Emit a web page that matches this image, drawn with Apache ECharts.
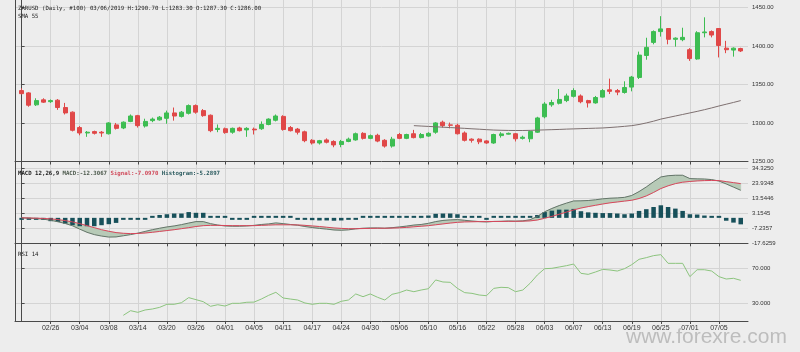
<!DOCTYPE html>
<html>
<head>
<meta charset="utf-8">
<title>ZARUSD Daily</title>
<script src="https://cdn.jsdelivr.net/npm/echarts@6/dist/echarts.min.js"></script>
<style>
  html, body { margin: 0; padding: 0; background: #ededed; }
  #chart { width: 800px; height: 352px; }
</style>
</head>
<body>
<div id="chart"></div>
<script>
// date labels on the bottom axis, one every 4 bars
const tickIndex = [4, 8, 12, 16, 20, 24, 28, 32, 36, 40, 44, 48, 52, 56, 60, 64, 68, 72, 76, 80, 84, 88, 92, 96];
const tickLabels = ['02/26', '03/04', '03/08', '03/14', '03/20', '03/26', '04/01', '04/05', '04/11', '04/17', '04/24', '04/30',
  '05/06', '05/10', '05/16', '05/22', '05/28', '06/03', '06/07', '06/13', '06/19', '06/25', '07/01', '07/05'];

const priceTicks = [1250, 1300, 1350, 1400, 1450];
const macdTicks = [-17.6259, -7.2357, 3.1545, 13.5446, 23.9348, 34.3250];
const rsiTicks = [30, 70];

// daily candles, 100 bars
const opens = [1342, 1339, 1323.5, 1330, 1327.6, 1329.5, 1320, 1314, 1294, 1287,
  1288.8, 1288, 1286, 1297.5, 1293.5, 1302, 1309.5, 1296, 1303, 1304,
  1306, 1313, 1308.5, 1312.5, 1322.5, 1316, 1310, 1291.5, 1292.5, 1288,
  1293.5, 1291, 1292, 1292.5, 1298, 1303.5, 1308.5, 1294, 1292, 1288.5,
  1277.5, 1274, 1278, 1276, 1272, 1276, 1278, 1286.5, 1280, 1284,
  1277.5, 1270, 1285, 1280, 1286, 1281, 1283, 1288, 1301, 1297.5,
  1297, 1287, 1279, 1279, 1276.7, 1274, 1283.6, 1285.5, 1286, 1280,
  1279.5, 1288, 1308, 1323.5, 1325.5, 1329, 1334.5, 1335, 1329, 1326,
  1333.5, 1343, 1342, 1339.5, 1346.5, 1359, 1387.5, 1404.5, 1418.5, 1422.5,
  1408.5, 1408, 1395, 1383, 1417, 1418.5, 1422.5, 1397, 1394.5, 1396.5];
const closes = [1338, 1323, 1329, 1327, 1329, 1320, 1313, 1290.5, 1287, 1288,
  1286.6, 1287, 1300, 1293, 1301, 1309, 1296.5, 1302, 1305, 1307.5,
  1313, 1309, 1314, 1322.5, 1314, 1309.5, 1290, 1293, 1287.5, 1293,
  1290, 1293, 1291, 1298, 1305, 1309, 1291.5, 1290, 1288, 1277,
  1274, 1277, 1275, 1271.5, 1276, 1279, 1286, 1280, 1283.5, 1276.5,
  1270, 1279, 1280, 1285, 1281, 1285, 1286.5, 1300, 1296.5, 1297,
  1286, 1277.5, 1277.5, 1275.5, 1274, 1285, 1285.8, 1286.5, 1279.5, 1281.5,
  1289, 1306.5, 1324.5, 1326.5, 1330.5, 1335, 1342, 1327.5, 1326, 1333,
  1342, 1341, 1340, 1346, 1359.5, 1388, 1398, 1418.5, 1422, 1408.5,
  1410, 1411, 1383.5, 1417, 1418, 1414, 1400.5, 1395, 1397, 1393.4];
const lows = [1337, 1321, 1322, 1326, 1326, 1317, 1311, 1289, 1284, 1282,
  1285, 1282, 1285, 1291.5, 1292, 1301, 1294, 1294, 1301, 1303,
  1299, 1303, 1307, 1311, 1312, 1308, 1288, 1288, 1286, 1286,
  1289, 1282, 1285, 1291, 1297, 1302, 1290, 1289, 1285, 1275,
  1272, 1272, 1273.5, 1268.5, 1268.5, 1275, 1277, 1278.5, 1279, 1275,
  1268, 1268, 1279, 1279, 1280, 1280, 1282, 1286, 1294, 1293,
  1285, 1276, 1274.5, 1272.5, 1273, 1273, 1281, 1285, 1276, 1278.5,
  1275, 1287, 1306, 1321, 1324, 1327, 1333, 1325.5, 1320, 1325,
  1333, 1337.5, 1336, 1338, 1341, 1357, 1382, 1402, 1412, 1402,
  1399, 1406, 1380.5, 1382, 1411, 1411, 1385, 1390.5, 1386, 1392];
const highs = [1345, 1340, 1332, 1332, 1330.5, 1331, 1326, 1315, 1296, 1289.5,
  1290, 1289.5, 1301, 1300, 1302, 1311, 1310.5, 1305.5, 1307, 1309,
  1316, 1320, 1315.5, 1324, 1324, 1318, 1311, 1298, 1294, 1294,
  1295, 1294.5, 1294, 1302, 1306, 1311, 1310, 1296, 1293.5, 1290,
  1279, 1278, 1280, 1277.5, 1278, 1281, 1287.5, 1288, 1285, 1286,
  1279, 1282, 1287, 1286, 1291, 1287, 1288, 1301, 1303, 1300.5,
  1299, 1289, 1280, 1280, 1277.5, 1286, 1288, 1287.5, 1287, 1283.5,
  1290, 1308, 1327, 1330, 1344, 1338, 1345, 1337, 1330, 1335,
  1344, 1357.5, 1344, 1354, 1361, 1392.5, 1410.5, 1420, 1438.5, 1423,
  1411, 1423.5, 1397, 1419, 1437, 1420, 1423, 1406.5, 1398, 1397.5];

// SMA 55, first value at bar 54
const sma55 = [1296.5, 1296.0, 1295.5, 1295.0, 1294.5, 1294.0, 1293.5, 1293.0, 1292.4, 1291.9,
  1291.3, 1290.8, 1290.5, 1290.3, 1290.2, 1290.2, 1290.4, 1290.7, 1291.0, 1291.3,
  1291.6, 1292.0, 1292.3, 1292.6, 1292.9, 1293.2, 1293.5, 1294.1, 1294.8, 1295.6,
  1296.5, 1298.0, 1300.0, 1302.3, 1305.0, 1307.0, 1309.0, 1311.0, 1313.0, 1315.0,
  1317.2, 1319.5, 1322.0, 1324.3, 1326.6, 1329.0];
const smaStart = 54;

// MACD 12,26,9
const macd = [0, -0.2, -0.5, -0.9, -1.7, -2.7, -3.9, -5.5, -7.8, -10,
  -11.6, -12.6, -13.3, -13.2, -12.4, -11.6, -10.6, -9.4, -8.2, -7.2,
  -6.3, -5.6, -4.7, -3.6, -2.6, -2.6, -4.0, -5.0, -5.6, -5.8,
  -5.8, -5.6, -5.2, -4.6, -4.2, -3.5, -4.0, -4.6, -5.1, -6.0,
  -6.7, -7.3, -7.8, -8.4, -8.6, -8.3, -7.6, -7.2, -7.0, -7.0,
  -7.2, -6.8, -6.3, -5.7, -5.0, -4.6, -3.8, -2.6, -1.8, -1.4,
  -1.2, -1.7, -2.2, -2.6, -2.8, -2.5, -2.4, -2.2, -2.3, -2.1,
  -1.3, 1.0, 4.2, 6.5, 8.5, 10.2, 11.7, 11.8, 12.0, 12.5,
  13.2, 13.6, 13.8, 14.2, 15.5, 18.2, 21.4, 25.0, 28.3, 29.2,
  29.5, 29.5, 27.2, 27.0, 26.9, 26.5, 25.5, 23.5, 21.3, 19.1];
const signal = [0, -0.1, -0.2, -0.4, -0.7, -1.2, -1.9, -2.8, -4.0, -5.4,
  -6.8, -8.2, -9.3, -10.2, -10.7, -10.9, -10.8, -10.5, -10.0, -9.4,
  -8.8, -8.2, -7.5, -6.8, -6.0, -5.4, -5.2, -5.2, -5.3, -5.4,
  -5.4, -5.4, -5.4, -5.2, -5.0, -4.8, -4.8, -4.8, -4.9, -5.2,
  -5.6, -6.0, -6.5, -7.0, -7.3, -7.5, -7.5, -7.4, -7.3, -7.2,
  -7.2, -7.1, -6.9, -6.6, -6.2, -5.8, -5.4, -4.8, -4.2, -3.6,
  -3.1, -2.8, -2.7, -2.6, -2.6, -2.5, -2.5, -2.4, -2.4, -2.3,
  -2.1, -1.5, -0.3, 1.0, 2.5, 4.0, 5.5, 6.8, 7.8, 8.7,
  9.6, 10.4, 11.0, 11.6, 12.2, 13.4, 15.2, 17.6, 20.3, 22.2,
  23.7, 24.7, 25.2, 25.6, 25.8, 25.9, 25.8, 25.1, 24.4, 23.7];
const histogram = [-0.3, -0.4, -0.6, -0.8, -2.3, -2.8, -4.0, -5.1, -5.8, -5.8,
  -5.8, -5.1, -4.4, -3.5, -1.2, -0.6, -0.5, -0.4, 0.4, 2.0,
  2.5, 3.0, 3.0, 4.0, 3.5, 3.5, 0.5, 0.4, 0.3, -0.3,
  -0.4, -0.3, 0.3, 0.4, 0.5, 0.6, 0.4, 0.3, -0.3, -0.6,
  -1.6, -1.8, -1.8, -2.0, -1.8, -0.5, -0.3, 0.3, 0.3, 0.3,
  0.3, 0.4, 0.4, 0.8, 1.2, 1.2, 1.6, 2.8, 3.0, 3.0,
  2.5, 1.2, 0.4, 0.3, -0.3, 0.3, 0.3, 0.3, 0.3, 0.3,
  0.5, 2.0, 4.0, 5.0, 5.7, 5.7, 6.2, 4.6, 3.8, 3.5,
  3.3, 3.3, 3.0, 2.5, 3.0, 4.8, 6.0, 7.5, 8.7, 7.5,
  6.4, 4.8, 2.5, 2.3, 1.6, 0.8, 0.2, -2.0, -3.3, -4.5];

// RSI 14, first value at bar 14
const rsi14 = [16.5, 21.8, 19.9, 22.6, 23.7, 25.6, 29.1, 29.1, 30.9, 36.7,
  34.4, 32.1, 26.8, 28.6, 27.1, 30.2, 30.2, 31.4, 31.6, 35.1,
  39.3, 42.8, 36.3, 35.1, 34.0, 30.6, 29.1, 30.2, 30.2, 29.1,
  32.5, 34.0, 40.9, 37.8, 40.9, 37.1, 34.0, 40.5, 42.4, 45.4,
  43.5, 45.4, 46.9, 56.9, 54.6, 54.2, 47.3, 42.4, 41.6, 39.7,
  38.9, 47.3, 48.5, 48.1, 43.5, 45.4, 53.1, 62.6, 69.8, 70.2,
  71.7, 73.2, 75.1, 64.5, 63.3, 66.0, 69.0, 68.3, 67.1, 69.8,
  74.4, 80.5, 82.4, 84.7, 85.8, 75.9, 75.9, 75.9, 60.7, 68.6,
  68.6, 67.1, 60.7, 58.0, 58.8, 56.5];
const rsiStart = 14;

const lastPrice = closes[closes.length - 1];

const up = '#3dbd52';
const down = '#e04848';
const axisColor = '#4a4a4a';
const gridColor = '#d4d4d4';
const mono = 'DejaVu Sans Mono';

function xAxisFor(gridIndex, withLabels) {
  return {
    type: 'value',
    gridIndex: gridIndex,
    min: -0.913,
    max: 100,
    axisLine: { onZero: false, lineStyle: { color: axisColor } },
    axisTick: { show: true, customValues: tickIndex, length: 3, lineStyle: { color: axisColor } },
    splitLine: { show: true, lineStyle: { color: gridColor, width: 1 } },
    axisLabel: {
      show: withLabels,
      customValues: tickIndex,
      margin: 4,
      fontSize: 7,
      color: '#333',
      fontFamily: 'Liberation Sans',
      formatter: (v) => tickLabels[tickIndex.indexOf(Math.round(v))]
    }
  };
}

function rightAxis(gridIndex, min, max, ticks, digits) {
  return {
    type: 'value',
    gridIndex: gridIndex,
    position: 'right',
    min: min,
    max: max,
    axisLine: { show: true, lineStyle: { color: axisColor } },
    axisTick: { show: true, customValues: ticks, length: 3, lineStyle: { color: axisColor } },
    splitLine: { show: true, lineStyle: { color: gridColor, width: 1 } },
    axisLabel: {
      customValues: ticks,
      margin: 4,
      fontSize: 6,
      color: '#333',
      fontFamily: 'Liberation Sans',
      formatter: (v) => v.toFixed(digits)
    }
  };
}

function leftBorder(gridIndex) {
  return {
    type: 'value',
    gridIndex: gridIndex,
    position: 'left',
    axisLine: { show: true, onZero: false, lineStyle: { color: axisColor } },
    axisTick: { show: false },
    axisLabel: { show: false },
    splitLine: { show: false }
  };
}

// shaded area between the MACD and signal lines, one polygon
function renderBand(params, api) {
  if (params.dataIndex !== 0) return;
  let pts = macd.map((m, i) => api.coord([i, m]));
  let back = signal.map((s, i) => api.coord([i, s])).reverse();
  return {
    type: 'polygon',
    shape: { points: pts.concat(back) },
    style: { fill: '#b7cab7', stroke: '#b7cab7', lineWidth: 0.5 }
  };
}

let chart = echarts.init(document.getElementById('chart'));

chart.setOption({
  animation: false,
  backgroundColor: '#ededed',
  title: [
    {
      text: 'ZARUSD (Daily, #100) 03/06/2019 H:1290.70 L:1283.30 O:1287.30 C:1286.00',
      left: 18, top: 6, padding: 0,
      textStyle: { fontSize: 5.7, fontWeight: 'normal', color: '#222', fontFamily: mono }
    },
    {
      text: 'SMA 55',
      left: 18, top: 14, padding: 0,
      textStyle: { fontSize: 5.7, fontWeight: 'normal', color: '#222', fontFamily: mono }
    },
    {
      text: '{a|MACD 12,26,9 }{b|MACD:-12.3067 }{c|Signal:-7.0970 }{d|Histogram:-5.2897}',
      left: 18, top: 171, padding: 0,
      textStyle: {
        fontSize: 5.7, fontFamily: mono,
        rich: {
          a: { fontSize: 5.7, fontFamily: mono, color: '#222' },
          b: { fontSize: 5.7, fontFamily: mono, color: '#4d5a4d' },
          c: { fontSize: 5.7, fontFamily: mono, color: '#d04a5a' },
          d: { fontSize: 5.7, fontFamily: mono, color: '#2a5a5e' }
        }
      }
    },
    {
      text: 'RSI 14',
      left: 18, top: 252, padding: 0,
      textStyle: { fontSize: 5.7, fontWeight: 'normal', color: '#222', fontFamily: mono }
    },
    {
      text: 'www.forexre.com',
      left: 626, top: 327, padding: 0,
      textStyle: { fontSize: 21, fontWeight: 'normal', color: '#bdbdbd', fontFamily: 'Liberation Sans' }
    }
  ],
  grid: [
    { left: 15, right: 52, top: 0, height: 161.5 },
    { left: 15, right: 52, top: 161.5, height: 81.8 },
    { left: 15, right: 52, top: 243.3, height: 77.7 }
  ],
  xAxis: [xAxisFor(0, false), xAxisFor(1, false), xAxisFor(2, true)],
  yAxis: [
    rightAxis(0, 1250, 1459.47, priceTicks, 2),
    leftBorder(0),
    rightAxis(1, -17.6259, 39.035, macdTicks, 4),
    leftBorder(1),
    rightAxis(2, 10, 98.8, rsiTicks, 3),
    leftBorder(2)
  ],
  series: [
    {
      name: 'ZARUSD',
      type: 'candlestick',
      xAxisIndex: 0,
      yAxisIndex: 0,
      barWidth: 4.5,
      data: opens.map((o, i) => [i, o, closes[i], lows[i], highs[i]]),
      itemStyle: { color: up, color0: down, borderColor: up, borderColor0: down, borderWidth: 1 },
      markLine: {
        silent: true,
        symbol: 'none',
        lineStyle: { opacity: 0 },
        data: [{ yAxis: lastPrice }],
        label: {
          position: 'end',
          distance: 2,
          formatter: lastPrice.toFixed(2),
          backgroundColor: '#3fd25c',
          color: '#fff',
          fontSize: 7,
          fontFamily: 'Liberation Sans',
          padding: [2, 3, 1, 3]
        }
      }
    },
    {
      name: 'SMA 55',
      type: 'line',
      xAxisIndex: 0,
      yAxisIndex: 0,
      symbol: 'none',
      data: sma55.map((v, i) => [smaStart + i, v]),
      lineStyle: { color: '#7e7070', width: 1 }
    },
    {
      name: 'band',
      type: 'custom',
      xAxisIndex: 1,
      yAxisIndex: 2,
      silent: true,
      renderItem: renderBand,
      data: [[0, 0]],
      z: 1
    },
    {
      name: 'Histogram',
      type: 'bar',
      xAxisIndex: 1,
      yAxisIndex: 2,
      barWidth: 4.5,
      barMinHeight: 2,
      data: histogram.map((v, i) => [i, v]),
      itemStyle: { color: '#17505a' },
      z: 2
    },
    {
      name: 'MACD',
      type: 'line',
      xAxisIndex: 1,
      yAxisIndex: 2,
      symbol: 'none',
      data: macd.map((v, i) => [i, v]),
      lineStyle: { color: '#65756a', width: 1 },
      z: 3
    },
    {
      name: 'Signal',
      type: 'line',
      xAxisIndex: 1,
      yAxisIndex: 2,
      symbol: 'none',
      data: signal.map((v, i) => [i, v]),
      lineStyle: { color: '#d8475c', width: 1 },
      z: 3
    },
    {
      name: 'RSI 14',
      type: 'line',
      xAxisIndex: 2,
      yAxisIndex: 4,
      symbol: 'none',
      data: rsi14.map((v, i) => [rsiStart + i, v]),
      lineStyle: { color: '#8cc47e', width: 1 }
    }
  ]
});
</script>
</body>
</html>
